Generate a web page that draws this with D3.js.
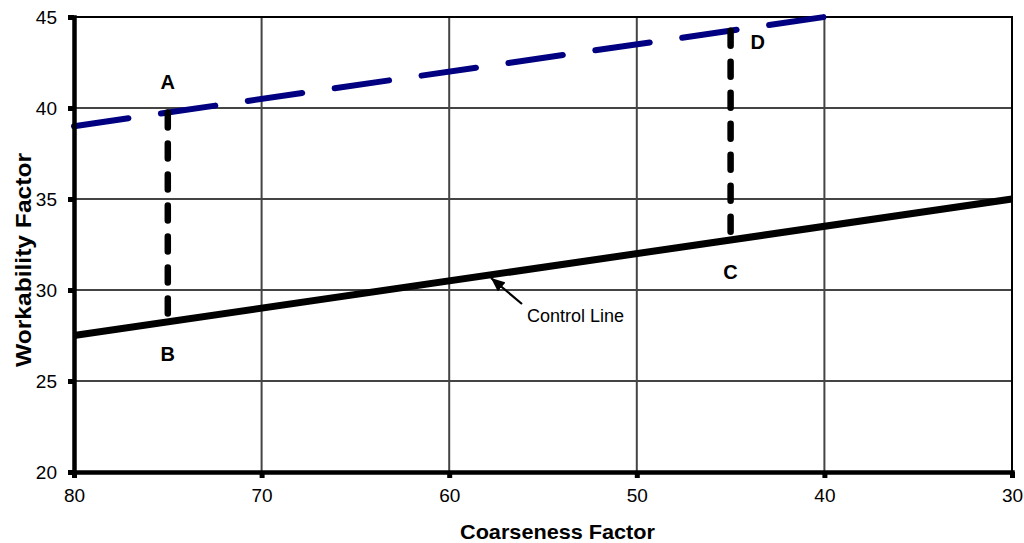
<!DOCTYPE html>
<html>
<head>
<meta charset="utf-8">
<script src="https://cdn.jsdelivr.net/npm/d3@7"></script>
<style>
  body { margin: 0; background: #fff; }
  text { font-family: "Liberation Sans", Arial, sans-serif; }
</style>
</head>
<body>
<script>
// data
var xTicks = [80, 70, 60, 50, 40, 30];
var yTicks = [20, 25, 30, 35, 40, 45];
var controlLine = [{x: 80, y: 27.5}, {x: 30, y: 35}];
var upperLine = [{x: 80, y: 39}, {x: 40, y: 45}];
var dropAB = [{x: 75, y: 39.75}, {x: 75, y: 28.25}];
var dropDC = [{x: 45, y: 44.25}, {x: 45, y: 32.75}];
var pointLabels = [
  {name: "A", x: 75, y: 41.45},
  {name: "B", x: 75, y: 26.5},
  {name: "C", x: 45, y: 31},
  {name: "D", x: 43.55, y: 43.65}
];

var width = 1024, height = 543;
var pLeft = 74, pRight = 1012, pTop = 17, pBottom = 472;

var svg = d3.select("body").append("svg")
  .attr("width", width)
  .attr("height", height);

var x = d3.scaleLinear().domain([80, 30]).range([pLeft, pRight]);
var y = d3.scaleLinear().domain([20, 45]).range([pBottom, pTop]);

// grid
svg.append("g").selectAll("line")
  .data(xTicks.slice(1, -1))
  .enter().append("line")
  .attr("x1", function(d){ return x(d); })
  .attr("x2", function(d){ return x(d); })
  .attr("y1", pTop).attr("y2", pBottom)
  .attr("stroke", "#444").attr("stroke-width", 2);
svg.append("g").selectAll("line")
  .data(yTicks.slice(1, -1))
  .enter().append("line")
  .attr("y1", function(d){ return y(d); })
  .attr("y2", function(d){ return y(d); })
  .attr("x1", pLeft).attr("x2", pRight)
  .attr("stroke", "#444").attr("stroke-width", 2);

// top and right border
svg.append("path")
  .attr("d", "M" + pLeft + "," + pTop + "H" + pRight + "V" + pBottom)
  .attr("fill", "none").attr("stroke", "#000").attr("stroke-width", 2);

var line = d3.line()
  .x(function(d){ return x(d.x); })
  .y(function(d){ return y(d.y); });

svg.append("path").datum(upperLine)
  .attr("d", line)
  .attr("fill", "none").attr("stroke", "#000080")
  .attr("stroke-width", 6).attr("stroke-linecap", "round")
  .attr("stroke-dasharray", "55,32.8");

svg.append("path").datum(controlLine)
  .attr("d", line)
  .attr("fill", "none").attr("stroke", "#000")
  .attr("stroke-width", 7);

[dropAB, dropDC].forEach(function(seg){
  svg.append("path").datum(seg)
    .attr("d", line)
    .attr("fill", "none").attr("stroke", "#000")
    .attr("stroke-width", 6.5).attr("stroke-linecap", "round")
    .attr("stroke-dasharray", "15,16");
});

// axes
var xAxis = d3.axisBottom(x).tickValues(xTicks).tickSize(6).tickPadding(11);
var yAxis = d3.axisLeft(y).tickValues(yTicks).tickSize(6).tickPadding(11);

var gx = svg.append("g").attr("transform", "translate(0," + pBottom + ")").call(xAxis);
var gy = svg.append("g").attr("transform", "translate(" + pLeft + ",0)").call(yAxis);
[gx, gy].forEach(function(g){
  g.select(".domain").attr("stroke", "#000").attr("stroke-width", 4.5);
  g.selectAll(".tick line").attr("stroke", "#000").attr("stroke-width", 5);
  g.selectAll(".tick text").attr("fill", "#000")
    .style("font-family", "'Liberation Sans', Arial, sans-serif").style("font-size", "19px");
});

// point labels
svg.append("g").selectAll("text")
  .data(pointLabels)
  .enter().append("text")
  .attr("x", function(d){ return x(d.x); })
  .attr("y", function(d){ return y(d.y); })
  .attr("text-anchor", "middle")
  .attr("dy", "0.36em")
  .style("font-weight", "bold").style("font-size", "20px")
  .text(function(d){ return d.name; });

// annotation
svg.append("defs").append("marker")
  .attr("id", "arrow").attr("viewBox", "0 0 14 12")
  .attr("refX", 14).attr("refY", 6)
  .attr("markerWidth", 14).attr("markerHeight", 12)
  .attr("markerUnits", "userSpaceOnUse")
  .attr("orient", "auto")
  .append("path").attr("d", "M0,0L14,6L0,12z").attr("fill", "#000");
svg.append("line")
  .attr("x1", 522).attr("y1", 304).attr("x2", 491).attr("y2", 278)
  .attr("stroke", "#000").attr("stroke-width", 2.2)
  .attr("marker-end", "url(#arrow)");
svg.append("text")
  .attr("x", 527).attr("y", 322)
  .style("font-size", "18px")
  .text("Control Line");

// axis titles
svg.append("text")
  .attr("x", 557.5).attr("y", 539)
  .attr("text-anchor", "middle")
  .attr("textLength", 195).attr("lengthAdjust", "spacingAndGlyphs")
  .style("font-weight", "bold").style("font-size", "21px")
  .text("Coarseness Factor");
svg.append("text")
  .attr("transform", "translate(31,260) rotate(-90)")
  .attr("text-anchor", "middle")
  .attr("textLength", 214).attr("lengthAdjust", "spacingAndGlyphs")
  .style("font-weight", "bold").style("font-size", "22px")
  .text("Workability Factor");
</script>
</body>
</html>
